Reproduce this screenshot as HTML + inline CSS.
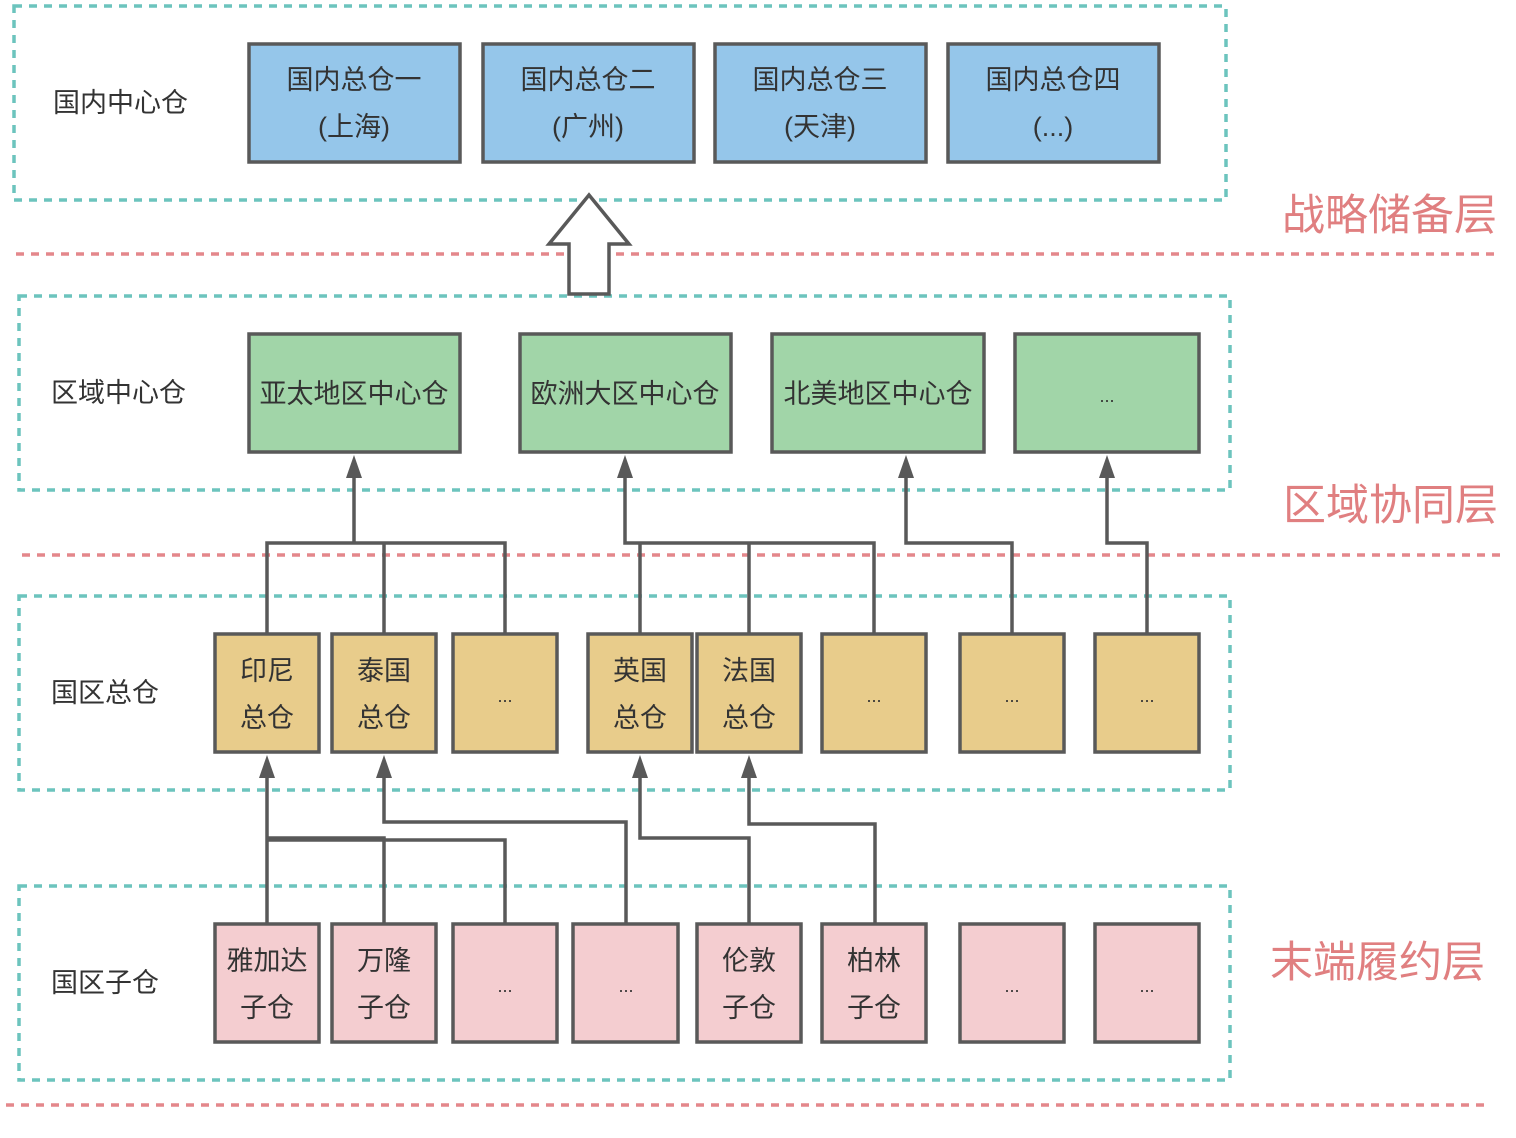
<!DOCTYPE html>
<html><head><meta charset="utf-8"><style>
html,body{margin:0;padding:0;background:#fff;}
svg text{font-family:"Liberation Sans","Noto Sans CJK SC",sans-serif;fill:#333;}
</style></head><body>
<svg width="1516" height="1133" viewBox="0 0 1516 1133" xmlns="http://www.w3.org/2000/svg">
<g fill="none" stroke="#6cc4bd" stroke-width="3.5" stroke-dasharray="8,7">
<rect x="14" y="6" width="1212" height="194"/>
<rect x="19" y="296" width="1211" height="194"/>
<rect x="19" y="596" width="1211" height="194"/>
<rect x="19" y="886" width="1211" height="194"/>
</g>
<g stroke="#e4878b" stroke-width="3.5" stroke-dasharray="8,7">
<line x1="16" y1="254" x2="1496" y2="254"/>
<line x1="22" y1="555" x2="1502" y2="555"/>
<line x1="6" y1="1105" x2="1490" y2="1105"/>
</g>
<g font-size="27">
<text x="53" y="112">国内中心仓</text>
<text x="51" y="402">区域中心仓</text>
<text x="51" y="702">国区总仓</text>
<text x="51" y="992">国区子仓</text>
</g>
<g font-size="43">
<text x="1282" y="230" style="fill:#e07f80">战略储备层</text>
<text x="1283" y="520" style="fill:#e07f80">区域协同层</text>
<text x="1270" y="977" style="fill:#e07f80">末端履约层</text>
</g>
<polygon points="589,195 629,244 609,244 609,294 569,294 569,244 549,244" fill="#fff" stroke="#595959" stroke-width="3.5"/>
<g fill="none" stroke="#595959" stroke-width="3.5">
<polyline points="267,634 267,543 505,543 505,634"/>
<line x1="384" y1="634" x2="384" y2="543"/>
<line x1="354" y1="543" x2="354" y2="470"/>
<polyline points="640,634 640,543"/>
<polyline points="874,634 874,543 625,543 625,470"/>
<line x1="749" y1="634" x2="749" y2="543"/>
<polyline points="1012,634 1012,543 906,543 906,470"/>
<polyline points="1147,634 1147,543 1107,543 1107,470"/>
<line x1="267" y1="924" x2="267" y2="770"/>
<polyline points="384,924 384,838 267,838"/>
<polyline points="505,924 505,840 267,840"/>
<polyline points="626,924 626,822 384,822 384,770"/>
<polyline points="749,924 749,838 640,838 640,770"/>
<polyline points="875,924 875,824 749,824 749,770"/>
</g>
<g fill="#595959">
<polygon points="354,455 346,478 362,478"/>
<polygon points="625,455 617,478 633,478"/>
<polygon points="906,455 898,478 914,478"/>
<polygon points="1107,455 1099,478 1115,478"/>
<polygon points="267,755 259,778 275,778"/>
<polygon points="384,755 376,778 392,778"/>
<polygon points="640,755 632,778 648,778"/>
<polygon points="749,755 741,778 757,778"/>
</g>
<g stroke="#595959" stroke-width="3.5" fill="#95c6ea">
<rect x="249" y="44" width="211" height="118"/>
<rect x="483" y="44" width="211" height="118"/>
<rect x="715" y="44" width="211" height="118"/>
<rect x="948" y="44" width="211" height="118"/>
</g>
<g font-size="27" text-anchor="middle">
<text x="354" y="89">国内总仓一</text><text x="354" y="136">(上海)</text>
<text x="588" y="89">国内总仓二</text><text x="588" y="136">(广州)</text>
<text x="820" y="89">国内总仓三</text><text x="820" y="136">(天津)</text>
<text x="1053" y="89">国内总仓四</text><text x="1053" y="136">(...)</text>
</g>
<g stroke="#595959" stroke-width="3.5" fill="#a1d5a8">
<rect x="249" y="334" width="211" height="118"/>
<rect x="520" y="334" width="211" height="118"/>
<rect x="772" y="334" width="212" height="118"/>
<rect x="1015" y="334" width="184" height="118"/>
</g>
<g font-size="27" text-anchor="middle">
<text x="354" y="403">亚太地区中心仓</text>
<text x="625" y="403">欧洲大区中心仓</text>
<text x="878" y="403">北美地区中心仓</text>
<text x="1107" y="402" font-size="18">...</text>
</g>
<g stroke="#595959" stroke-width="3.5" fill="#e8cc8b">
<rect x="215" y="634" width="104" height="118"/>
<rect x="332" y="634" width="104" height="118"/>
<rect x="453" y="634" width="104" height="118"/>
<rect x="588" y="634" width="104" height="118"/>
<rect x="697" y="634" width="104" height="118"/>
<rect x="822" y="634" width="104" height="118"/>
<rect x="960" y="634" width="104" height="118"/>
<rect x="1095" y="634" width="104" height="118"/>
</g>
<g font-size="27" text-anchor="middle">
<text x="267" y="680">印尼</text><text x="267" y="727">总仓</text>
<text x="384" y="680">泰国</text><text x="384" y="727">总仓</text>
<text x="640" y="680">英国</text><text x="640" y="727">总仓</text>
<text x="749" y="680">法国</text><text x="749" y="727">总仓</text>
<g font-size="18"><text x="505" y="702">...</text><text x="874" y="702">...</text><text x="1012" y="702">...</text><text x="1147" y="702">...</text></g>
</g>
<g stroke="#595959" stroke-width="3.5" fill="#f4cdd0">
<rect x="215" y="924" width="104" height="118"/>
<rect x="332" y="924" width="104" height="118"/>
<rect x="453" y="924" width="104" height="118"/>
<rect x="573" y="924" width="105" height="118"/>
<rect x="697" y="924" width="104" height="118"/>
<rect x="822" y="924" width="104" height="118"/>
<rect x="960" y="924" width="104" height="118"/>
<rect x="1095" y="924" width="104" height="118"/>
</g>
<g font-size="27" text-anchor="middle">
<text x="267" y="970">雅加达</text><text x="267" y="1017">子仓</text>
<text x="384" y="970">万隆</text><text x="384" y="1017">子仓</text>
<text x="749" y="970">伦敦</text><text x="749" y="1017">子仓</text>
<text x="874" y="970">柏林</text><text x="874" y="1017">子仓</text>
<g font-size="18"><text x="505" y="992">...</text><text x="626" y="992">...</text><text x="1012" y="992">...</text><text x="1147" y="992">...</text></g>
</g>
</svg>
</body></html>
